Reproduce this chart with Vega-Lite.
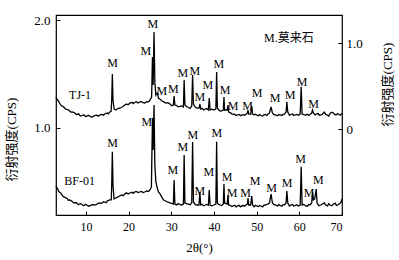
{
"$schema":"https://vega.github.io/schema/vega-lite/v6.json",
"width":286,"height":200,"autosize":"none",
"padding":{"left":56,"top":15,"right":57,"bottom":45},
"config":{"view":{"stroke":"black","strokeWidth":1.2},
"axis":{"grid":false,"domain":false,"labelFont":"Liberation Serif","titleFont":"Liberation Serif, Noto Sans CJK SC","labelColor":"black","titleColor":"black","tickColor":"black","titleFontWeight":"normal","labelFontSize":13,"titleFontSize":13},
"text":{"font":"Liberation Serif, Noto Sans CJK SC","color":"black"}},
"datasets":{
"tj":[{"x":3.0,"y":0.372},{"x":3.4,"y":0.337},{"x":3.8,"y":0.302},{"x":4.4,"y":0.267},{"x":5.0,"y":0.244},{"x":5.6,"y":0.227},{"x":6.2,"y":0.209},{"x":6.8,"y":0.198},{"x":7.4,"y":0.186},{"x":8.0,"y":0.169},{"x":8.5,"y":0.163},{"x":9.2,"y":0.157},{"x":10.2,"y":0.151},{"x":11.0,"y":0.145},{"x":12.0,"y":0.157},{"x":13.2,"y":0.163},{"x":14.4,"y":0.174},{"x":15.0,"y":0.186},{"x":15.6,"y":0.198},{"x":15.9,"y":0.203},{"x":16.05,"y":0.337},{"x":16.2,"y":0.640},{"x":16.35,"y":0.337},{"x":16.6,"y":0.233},{"x":17.0,"y":0.221},{"x":17.9,"y":0.244},{"x":19.1,"y":0.279},{"x":20.3,"y":0.302},{"x":21.4,"y":0.308},{"x":22.6,"y":0.314},{"x":23.8,"y":0.302},{"x":24.5,"y":0.314},{"x":25.0,"y":0.337},{"x":25.4,"y":0.372},{"x":25.6,"y":0.837},{"x":25.75,"y":0.512},{"x":25.97,"y":1.128},{"x":26.15,"y":0.547},{"x":26.4,"y":0.395},{"x":26.73,"y":0.419},{"x":27.0,"y":0.360},{"x":27.8,"y":0.326},{"x":28.7,"y":0.302},{"x":29.7,"y":0.291},{"x":30.5,"y":0.279},{"x":30.67,"y":0.384},{"x":30.85,"y":0.279},{"x":32.0,"y":0.262},{"x":32.85,"y":0.256},{"x":33.02,"y":0.570},{"x":33.2,"y":0.279},{"x":34.0,"y":0.250},{"x":34.8,"y":0.267},{"x":35.0,"y":0.628},{"x":35.2,"y":0.291},{"x":36.0,"y":0.244},{"x":36.5,"y":0.244},{"x":36.7,"y":0.291},{"x":36.9,"y":0.233},{"x":38.0,"y":0.233},{"x":38.7,"y":0.221},{"x":38.9,"y":0.360},{"x":39.1,"y":0.221},{"x":40.0,"y":0.221},{"x":40.45,"y":0.233},{"x":40.63,"y":0.663},{"x":40.8,"y":0.244},{"x":41.5,"y":0.209},{"x":42.2,"y":0.221},{"x":42.35,"y":0.372},{"x":42.5,"y":0.221},{"x":43.1,"y":0.221},{"x":43.29,"y":0.279},{"x":43.45,"y":0.198},{"x":44.5,"y":0.174},{"x":45.5,"y":0.163},{"x":46.5,"y":0.163},{"x":47.5,"y":0.169},{"x":47.85,"y":0.186},{"x":47.98,"y":0.221},{"x":48.15,"y":0.174},{"x":48.6,"y":0.174},{"x":48.85,"y":0.267},{"x":49.05,"y":0.174},{"x":50.0,"y":0.163},{"x":51.0,"y":0.157},{"x":52.0,"y":0.169},{"x":53.0,"y":0.186},{"x":53.39,"y":0.256},{"x":53.7,"y":0.186},{"x":54.5,"y":0.163},{"x":55.5,"y":0.163},{"x":56.5,"y":0.174},{"x":56.9,"y":0.198},{"x":57.08,"y":0.317},{"x":57.3,"y":0.198},{"x":58.0,"y":0.169},{"x":59.0,"y":0.163},{"x":60.2,"y":0.174},{"x":60.44,"y":0.492},{"x":60.65,"y":0.174},{"x":61.5,"y":0.163},{"x":62.5,"y":0.169},{"x":62.9,"y":0.186},{"x":63.09,"y":0.221},{"x":63.3,"y":0.186},{"x":64.0,"y":0.174},{"x":65.0,"y":0.163},{"x":65.84,"y":0.198},{"x":66.5,"y":0.163},{"x":67.2,"y":0.180},{"x":67.95,"y":0.186},{"x":68.6,"y":0.163},{"x":69.3,"y":0.169},{"x":70.0,"y":0.186},
{"x":3.2,"y":0.350},{"x":3.6,"y":0.325},{"x":4.1,"y":0.280},{"x":4.7,"y":0.262},{"x":5.3,"y":0.232},{"x":5.9,"y":0.222},{"x":6.5,"y":0.196},{"x":7.1,"y":0.194},{"x":7.7,"y":0.171},{"x":8.25,"y":0.178},{"x":8.8,"y":0.150},{"x":9.5,"y":0.165},{"x":9.9,"y":0.145},{"x":10.6,"y":0.160},{"x":11.5,"y":0.140},{"x":12.5,"y":0.162},{"x":12.9,"y":0.150},{"x":13.7,"y":0.170},{"x":14.1,"y":0.160},{"x":14.8,"y":0.183},{"x":15.3,"y":0.176},{"x":17.4,"y":0.236},{"x":18.3,"y":0.250},{"x":18.7,"y":0.262},{"x":19.5,"y":0.290},{"x":19.9,"y":0.282},{"x":20.8,"y":0.310},{"x":21.1,"y":0.296},{"x":21.8,"y":0.318},{"x":22.2,"y":0.302},{"x":23.0,"y":0.320},{"x":23.4,"y":0.306},{"x":24.2,"y":0.318},{"x":24.8,"y":0.322},{"x":27.4,"y":0.345},{"x":28.2,"y":0.318},{"x":29.2,"y":0.306},{"x":30.1,"y":0.270},{"x":31.2,"y":0.275},{"x":31.6,"y":0.258},{"x":32.4,"y":0.268},{"x":33.6,"y":0.262},{"x":34.4,"y":0.240},{"x":35.6,"y":0.255},{"x":37.2,"y":0.240},{"x":37.6,"y":0.222},{"x":38.3,"y":0.238},{"x":39.5,"y":0.230},{"x":41.1,"y":0.225},{"x":41.8,"y":0.212},{"x":43.8,"y":0.190},{"x":44.2,"y":0.176},{"x":44.9,"y":0.170},{"x":45.2,"y":0.158},{"x":45.9,"y":0.170},{"x":46.2,"y":0.156},{"x":46.9,"y":0.168},{"x":47.2,"y":0.160},{"x":49.4,"y":0.165},{"x":49.7,"y":0.172},{"x":50.4,"y":0.155},{"x":50.7,"y":0.168},{"x":51.4,"y":0.150},{"x":51.7,"y":0.165},{"x":52.4,"y":0.158},{"x":52.7,"y":0.175},{"x":54.0,"y":0.170},{"x":54.9,"y":0.155},{"x":55.2,"y":0.168},{"x":55.9,"y":0.158},{"x":56.2,"y":0.170},{"x":57.7,"y":0.160},{"x":58.4,"y":0.175},{"x":58.7,"y":0.158},{"x":59.4,"y":0.170},{"x":59.8,"y":0.160},{"x":61.0,"y":0.168},{"x":61.9,"y":0.172},{"x":62.2,"y":0.158},{"x":63.7,"y":0.165},{"x":64.4,"y":0.180},{"x":64.7,"y":0.160},{"x":65.4,"y":0.172},{"x":66.2,"y":0.170},{"x":66.9,"y":0.150},{"x":67.6,"y":0.195},{"x":68.3,"y":0.170},{"x":69.0,"y":0.180},{"x":69.6,"y":0.160}],
"bf":[{"x":3.0,"y":0.456},{"x":3.4,"y":0.428},{"x":3.8,"y":0.400},{"x":4.4,"y":0.372},{"x":5.0,"y":0.353},{"x":5.6,"y":0.340},{"x":6.2,"y":0.326},{"x":6.8,"y":0.312},{"x":7.4,"y":0.298},{"x":8.0,"y":0.293},{"x":8.5,"y":0.288},{"x":9.2,"y":0.279},{"x":10.2,"y":0.279},{"x":11.0,"y":0.274},{"x":12.0,"y":0.279},{"x":13.2,"y":0.298},{"x":14.4,"y":0.307},{"x":15.0,"y":0.316},{"x":15.6,"y":0.326},{"x":15.95,"y":0.326},{"x":16.05,"y":0.465},{"x":16.2,"y":0.775},{"x":16.35,"y":0.465},{"x":16.6,"y":0.335},{"x":17.0,"y":0.344},{"x":17.9,"y":0.363},{"x":19.1,"y":0.381},{"x":20.3,"y":0.391},{"x":21.4,"y":0.400},{"x":22.6,"y":0.400},{"x":23.8,"y":0.400},{"x":24.5,"y":0.405},{"x":25.0,"y":0.419},{"x":25.35,"y":0.447},{"x":25.6,"y":1.088},{"x":25.75,"y":0.791},{"x":25.97,"y":1.209},{"x":26.15,"y":0.651},{"x":26.4,"y":0.493},{"x":26.73,"y":0.437},{"x":27.0,"y":0.400},{"x":27.8,"y":0.353},{"x":28.7,"y":0.316},{"x":29.7,"y":0.298},{"x":30.5,"y":0.288},{"x":30.67,"y":0.512},{"x":30.85,"y":0.288},{"x":32.0,"y":0.284},{"x":32.85,"y":0.288},{"x":33.02,"y":0.744},{"x":33.2,"y":0.298},{"x":34.0,"y":0.288},{"x":34.8,"y":0.298},{"x":35.0,"y":0.865},{"x":35.2,"y":0.307},{"x":36.0,"y":0.279},{"x":36.5,"y":0.279},{"x":36.7,"y":0.400},{"x":36.9,"y":0.279},{"x":38.0,"y":0.279},{"x":38.7,"y":0.279},{"x":38.9,"y":0.419},{"x":39.1,"y":0.279},{"x":40.0,"y":0.279},{"x":40.45,"y":0.288},{"x":40.63,"y":0.868},{"x":40.8,"y":0.298},{"x":41.5,"y":0.279},{"x":42.2,"y":0.288},{"x":42.35,"y":0.474},{"x":42.5,"y":0.298},{"x":43.1,"y":0.288},{"x":43.29,"y":0.372},{"x":43.45,"y":0.279},{"x":44.5,"y":0.270},{"x":45.5,"y":0.270},{"x":46.5,"y":0.270},{"x":47.5,"y":0.279},{"x":47.85,"y":0.288},{"x":47.98,"y":0.344},{"x":48.15,"y":0.279},{"x":48.6,"y":0.279},{"x":48.85,"y":0.363},{"x":49.05,"y":0.279},{"x":50.0,"y":0.270},{"x":51.0,"y":0.270},{"x":52.0,"y":0.279},{"x":53.0,"y":0.298},{"x":53.39,"y":0.381},{"x":53.7,"y":0.298},{"x":54.5,"y":0.279},{"x":55.5,"y":0.274},{"x":56.5,"y":0.279},{"x":56.9,"y":0.298},{"x":57.08,"y":0.409},{"x":57.3,"y":0.298},{"x":58.0,"y":0.279},{"x":59.0,"y":0.274},{"x":60.2,"y":0.279},{"x":60.44,"y":0.635},{"x":60.65,"y":0.279},{"x":61.5,"y":0.270},{"x":62.5,"y":0.279},{"x":62.9,"y":0.298},{"x":63.09,"y":0.400},{"x":63.3,"y":0.326},{"x":63.6,"y":0.335},{"x":63.96,"y":0.428},{"x":64.15,"y":0.298},{"x":65.0,"y":0.279},{"x":65.84,"y":0.298},{"x":66.2,"y":0.279},{"x":67.2,"y":0.279},{"x":68.0,"y":0.288},{"x":69.0,"y":0.279},{"x":70.0,"y":0.335},
{"x":3.2,"y":0.440},{"x":3.6,"y":0.408},{"x":4.1,"y":0.392},{"x":4.7,"y":0.356},{"x":5.3,"y":0.345},{"x":5.9,"y":0.322},{"x":6.5,"y":0.320},{"x":7.1,"y":0.300},{"x":7.7,"y":0.302},{"x":8.25,"y":0.282},{"x":8.8,"y":0.292},{"x":9.5,"y":0.272},{"x":9.9,"y":0.285},{"x":10.6,"y":0.268},{"x":11.5,"y":0.282},{"x":12.5,"y":0.285},{"x":12.9,"y":0.295},{"x":13.7,"y":0.294},{"x":14.1,"y":0.310},{"x":14.8,"y":0.300},{"x":15.3,"y":0.322},{"x":17.4,"y":0.352},{"x":18.3,"y":0.372},{"x":18.7,"y":0.366},{"x":19.5,"y":0.392},{"x":19.9,"y":0.382},{"x":20.8,"y":0.398},{"x":21.1,"y":0.388},{"x":21.8,"y":0.405},{"x":22.2,"y":0.394},{"x":23.0,"y":0.406},{"x":23.4,"y":0.395},{"x":24.2,"y":0.410},{"x":24.8,"y":0.410},{"x":27.4,"y":0.380},{"x":28.2,"y":0.325},{"x":29.2,"y":0.305},{"x":30.1,"y":0.295},{"x":31.2,"y":0.280},{"x":31.6,"y":0.292},{"x":32.4,"y":0.278},{"x":33.6,"y":0.292},{"x":34.4,"y":0.282},{"x":35.6,"y":0.285},{"x":37.2,"y":0.286},{"x":37.6,"y":0.272},{"x":38.3,"y":0.285},{"x":39.5,"y":0.272},{"x":41.1,"y":0.285},{"x":41.8,"y":0.275},{"x":43.8,"y":0.276},{"x":44.2,"y":0.265},{"x":44.9,"y":0.276},{"x":45.2,"y":0.262},{"x":45.9,"y":0.276},{"x":46.2,"y":0.262},{"x":46.9,"y":0.274},{"x":47.2,"y":0.268},{"x":49.4,"y":0.262},{"x":49.7,"y":0.276},{"x":50.4,"y":0.264},{"x":50.7,"y":0.275},{"x":51.4,"y":0.262},{"x":51.7,"y":0.276},{"x":52.4,"y":0.285},{"x":52.7,"y":0.290},{"x":54.0,"y":0.285},{"x":54.9,"y":0.270},{"x":55.2,"y":0.282},{"x":55.9,"y":0.268},{"x":56.2,"y":0.284},{"x":57.7,"y":0.270},{"x":58.4,"y":0.284},{"x":58.7,"y":0.270},{"x":59.4,"y":0.282},{"x":59.8,"y":0.270},{"x":61.0,"y":0.284},{"x":61.9,"y":0.268},{"x":62.2,"y":0.284},{"x":64.6,"y":0.272},{"x":65.4,"y":0.288},{"x":66.6,"y":0.270},{"x":66.9,"y":0.290},{"x":67.6,"y":0.272},{"x":68.4,"y":0.296},{"x":68.7,"y":0.274},{"x":69.4,"y":0.290},{"x":69.7,"y":0.300}],
"tjl":[{"x":16.27,"y":0.767,"t":"M"},{"x":24.02,"y":0.907,"t":"M"},{"x":25.67,"y":1.221,"t":"M"},{"x":27.78,"y":0.442,"t":"M"},{"x":30.48,"y":0.465,"t":"M"},{"x":32.72,"y":0.657,"t":"M"},{"x":35.53,"y":0.674,"t":"M"},{"x":36.71,"y":0.372,"t":"M"},{"x":38.59,"y":0.512,"t":"M"},{"x":41.17,"y":0.756,"t":"M"},{"x":42.58,"y":0.453,"t":"M"},{"x":44.46,"y":0.267,"t":"M"},{"x":47.87,"y":0.273,"t":"M"},{"x":50.10,"y":0.419,"t":"M"},{"x":54.33,"y":0.360,"t":"M"},{"x":57.85,"y":0.395,"t":"M"},{"x":60.67,"y":0.547,"t":"M"},{"x":63.37,"y":0.291,"t":"M"},{"x":8.64,"y":0.395,"t":"TJ-1"},{"x":57.57,"y":1.058,"t":"M.莫来石"}],
"bfl":[{"x":16.27,"y":0.856,"t":"M"},{"x":24.26,"y":1.047,"t":"M"},{"x":30.37,"y":0.605,"t":"M"},{"x":32.72,"y":0.819,"t":"M"},{"x":35.06,"y":0.930,"t":"M"},{"x":36.71,"y":0.409,"t":"M"},{"x":38.82,"y":0.586,"t":"M"},{"x":40.70,"y":0.949,"t":"M"},{"x":43.05,"y":0.540,"t":"M"},{"x":44.22,"y":0.395,"t":"M"},{"x":47.40,"y":0.395,"t":"M"},{"x":49.63,"y":0.502,"t":"M"},{"x":53.51,"y":0.437,"t":"M"},{"x":57.15,"y":0.484,"t":"M"},{"x":60.32,"y":0.707,"t":"M"},{"x":62.31,"y":0.391,"t":"M"},{"x":64.43,"y":0.512,"t":"M"},{"x":8.52,"y":0.502,"t":"BF-01"}]
},
"encoding":{"x":{"field":"x","type":"quantitative","scale":{"domain":[3,70],"nice":false,"zero":false},
"axis":{"values":[10,20,30,40,50,60,70],"tickSize":-4,"labelPadding":10,"labelFontSize":12,"title":"2θ(°)","titleY":32,"titleBaseline":"middle","titleX":143}}},
"layer":[
{"encoding":{"y":{"field":"y","type":"quantitative","scale":{"domain":[0.186,2.047],"nice":false,"zero":false},
"axis":{"orient":"left","values":[1,2],"format":".1f","tickSize":-4,"labelPadding":10,"title":"衍射强度(CPS)","titleAngle":270,"titleX":-45,"titleY":124,"titleAlign":"center","titleBaseline":"middle"}}},
"layer":[
{"data":{"name":"bf"},"mark":{"type":"line","color":"black","strokeWidth":1.3}},
{"data":{"name":"bfl"},"mark":{"type":"text","fontSize":12,"baseline":"middle","align":"center"},"encoding":{"text":{"field":"t"}}}
]},
{"encoding":{"y":{"field":"y","type":"quantitative","scale":{"domain":[-1.0,1.326],"nice":false,"zero":false},
"axis":{"orient":"right","values":[0,1],"labelExpr":"datum.value == 0 ? '0' : format(datum.value, '.1f')","tickSize":-4,"labelPadding":8,"title":"衍射强度(CPS)","titleAngle":270,"titleX":45,"titleY":69,"titleAlign":"center","titleBaseline":"middle"}}},
"layer":[
{"data":{"name":"tj"},"mark":{"type":"line","color":"black","strokeWidth":1.3}},
{"data":{"name":"tjl"},"mark":{"type":"text","fontSize":12,"baseline":"middle","align":"center"},"encoding":{"text":{"field":"t"}}}
]}
],
"resolve":{"scale":{"y":"independent"},"axis":{"y":"independent"}}
}
